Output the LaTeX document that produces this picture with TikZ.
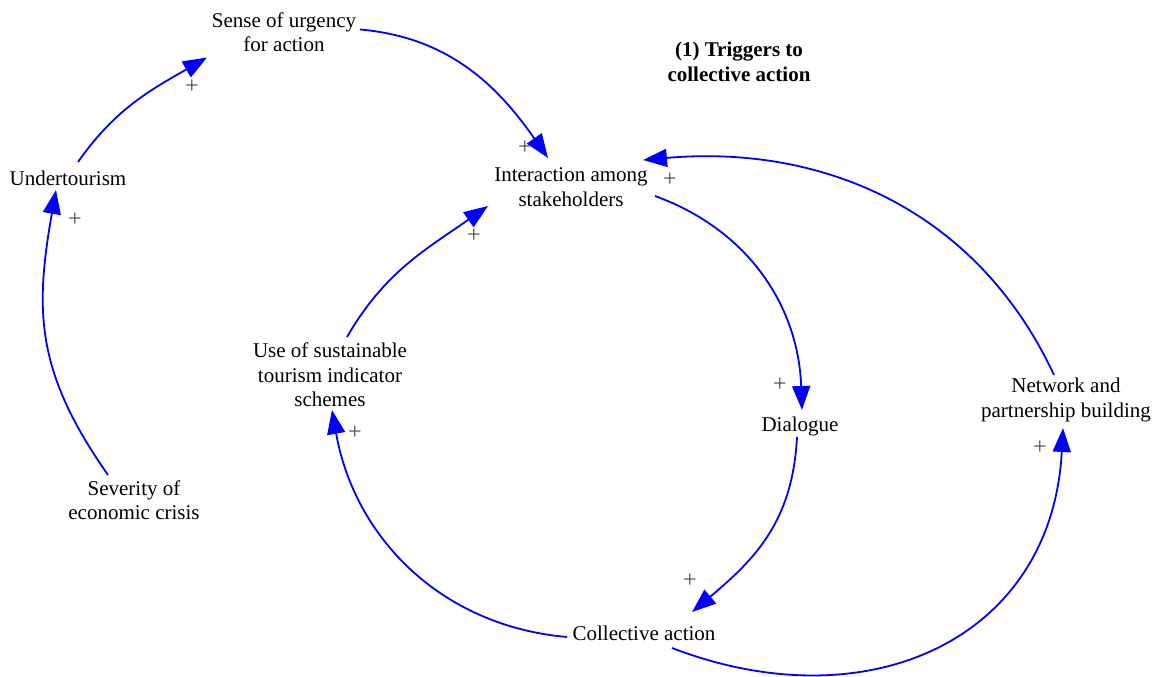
\documentclass[tikz,border=0pt]{standalone}
\usepackage{fontspec}
\setmainfont{Liberation Serif}
\usetikzlibrary{arrows.meta}

\begin{document}
\begin{tikzpicture}[
    x=1pt, y=1pt,
    var/.style={align=center, inner sep=0pt, font=\fontsize{21}{24.5}\selectfont},
    link/.style={draw=blue, line width=1.8pt, -{Triangle[length=24pt, width=18pt]}, fill=none},
    pol/.style={text=black!70, font=\fontsize{24}{24}\selectfont, inner sep=0pt},
]
\useasboundingbox (0, 0) rectangle (1162, 677);

\node[var] (urg) at (284, 645) {Sense of urgency\\for action};
\node[var, font=\fontsize{21}{24.5}\selectfont\bfseries] (trig) at (739, 615) {(1) Triggers to\\collective action};
\node[var] (und) at (68, 499) {Undertourism};
\node[var] (inter) at (571, 490) {Interaction among\\stakeholders};
\node[var] (use) at (330, 302) {Use of sustainable\\tourism indicator\\schemes};
\node[var] (dia) at (800, 251) {Dialogue};
\node[var] (net) at (1066, 277) {Network and\\partnership building};
\node[var] (sev) at (134, 177) {Severity of\\economic crisis};
\node[var] (col) at (644, 44) {Collective action};

% outer loop
\draw[link] ([shift={(-26, 25)}]sev.center) to[out=125, in=-100, looseness=1.1] ([shift={(-12, -12)}]und.center);
\draw[link] ([shift={(10, 16)}]und.center) to[out=55, in=210] ([shift={(-77, -25.5)}]urg.center);
\draw[link] ([shift={(76, 2.5)}]urg.center) to[out=-5, in=125] ([shift={(-23, 29)}]inter.center);

% inner loops
\draw[link] ([shift={(84, -9)}]inter.center) to[out=-20, in=92] ([shift={(2, 16)}]dia.center);
\draw[link] ([shift={(-3, -11)}]dia.center) to[out=-93, in=40, looseness=1.05] ([shift={(48, 21)}]col.center);
\draw[link] ([shift={(-77, -4)}]col.center) to[out=175, in=-80] ([shift={(2, -35)}]use.center);
\draw[link] ([shift={(17, 38)}]use.center) to[out=60, in=215] ([shift={(-83, -19)}]inter.center);
\draw[link] ([shift={(28, -15)}]col.center) to[out=-21, in=-93, looseness=1.2] ([shift={(-3, -28)}]net.center);
\draw[link] ([shift={(-12, 25)}]net.center) to[out=115, in=5] ([shift={(72, 27)}]inter.center);

% polarities
\foreach \px/\py [count=\i] in {75/457, 192/590, 525/529, 780/292, 690/96, 355/244, 474/441, 1040/229, 670/497}
  \node[pol] (p\i) at (\px, \py) {+};
\end{tikzpicture}
\end{document}
